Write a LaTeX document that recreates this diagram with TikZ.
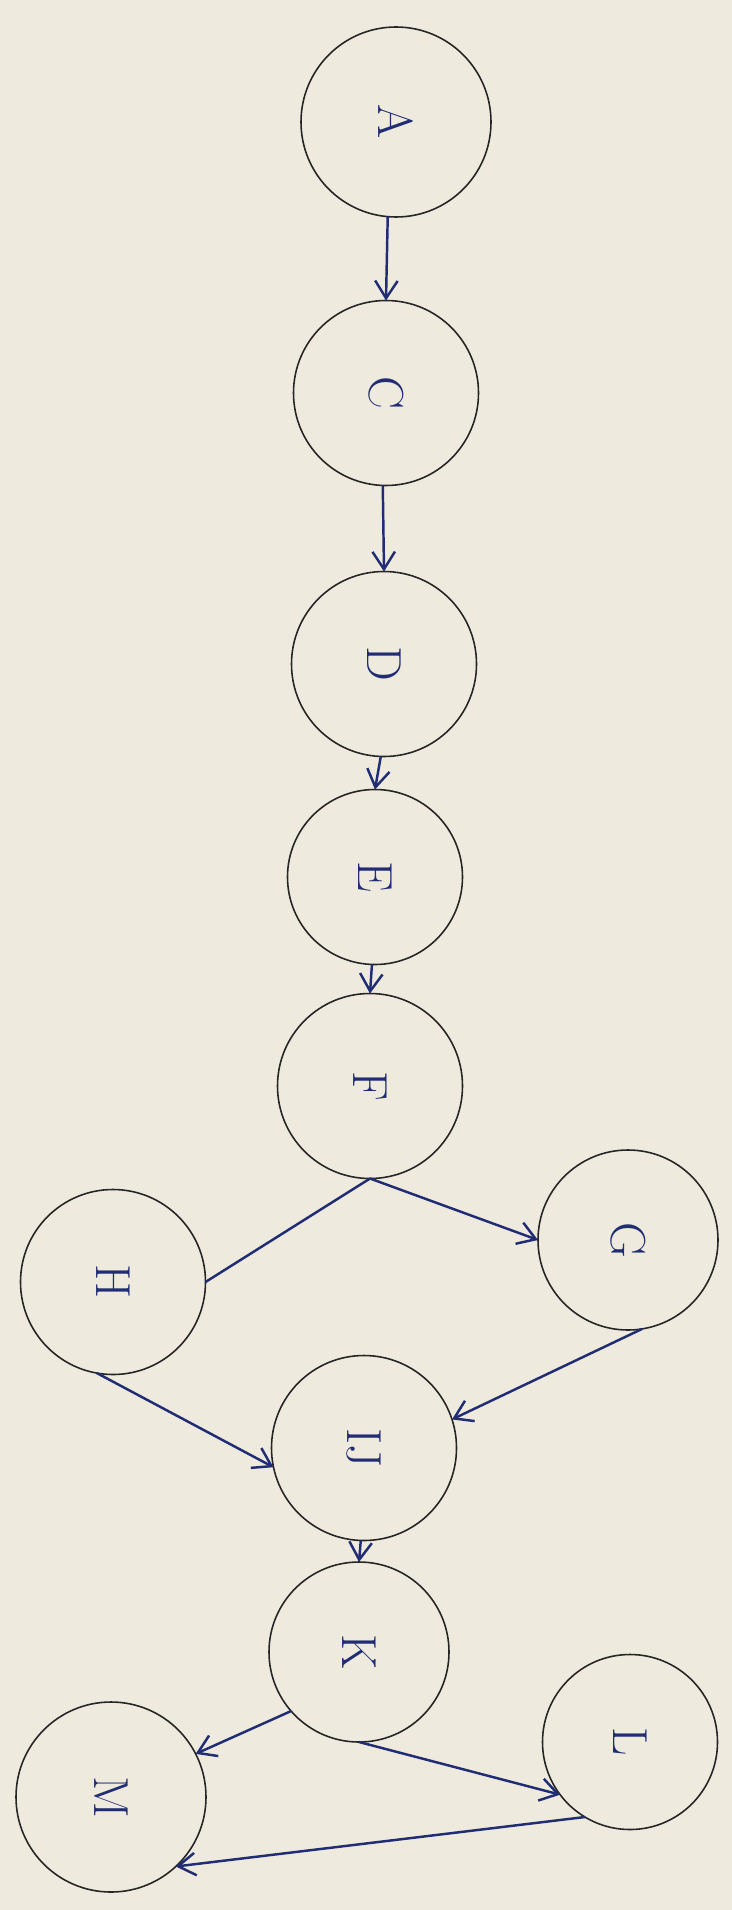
\documentclass[tikz,border=0pt]{standalone}
\usepackage{tikz}
\usetikzlibrary{arrows.meta}

\begin{document}
\begin{tikzpicture}

% Define the sizes
\def\labelsize{28}
\def\inkwidth{1.4pt}
\def\rimwidth{0.9pt}

% Define colors
\definecolor{paper}{RGB}{238,234,221}
\definecolor{ink}{RGB}{32,44,116}
\colorlet{rim}{black!85}

\tikzset{
    state/.style={draw=rim, line width=\rimwidth, circle, inner sep=0pt, outer sep=0pt,
        text=ink, font=\fontsize{\labelsize}{\labelsize}\selectfont},
    flow/.style={draw=ink, line width=\inkwidth, -{Straight Barb[length=3.5mm,width=4.5mm]}},
    plainflow/.style={draw=ink, line width=\inkwidth}
}

\useasboundingbox[fill=paper] (0,0) rectangle (14.64,-38.2);

% Draw the circles, labels turned like the sheet
\foreach \name/\x/\y/\s in {A/7.92/-2.44/3.8, C/7.72/-7.86/3.7, D/7.68/-13.28/3.7,
    E/7.50/-17.54/3.5, F/7.40/-21.72/3.7, G/12.56/-24.80/3.6, H/2.26/-25.64/3.7,
    IJ/7.28/-28.96/3.7, K/7.18/-33.04/3.6, L/12.60/-34.84/3.5, M/2.22/-35.94/3.8} {
    \node[state, minimum size=\s cm] (\name) at (\x,\y) {\rotatebox{-90}{\name}};
}

% Draw the arrows
\foreach \from/\to in {A.-95/C.north, C.-92/D.north, D.-92/E.north, E.-92/F.north,
    F.south/G.180, H.-100/IJ.-168, G.-81/IJ.18, IJ.-92/K.north,
    K.-139/M.27, K.south/L.-143, L.-121/M.-47} {
    \draw[flow] (\from) -- (\to);
}

% F and H are joined with no head
\draw[plainflow] (F.south) -- (H.east);

\end{tikzpicture}
\end{document}
